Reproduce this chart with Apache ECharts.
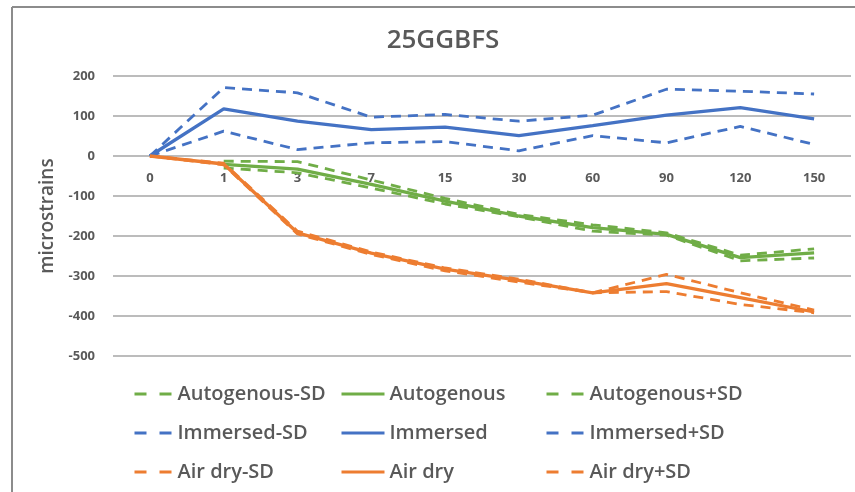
<!DOCTYPE html>
<html>
<head>
<meta charset="utf-8">
<script src="https://cdn.jsdelivr.net/npm/echarts@6/dist/echarts.min.js"></script>
<style>html,body{margin:0;padding:0;background:#fff}#c{width:855px;height:492px}</style>
</head>
<body>
<div id="c"></div>
<script>
const categories = ['0','1','3','7','15','30','60','90','120','150'];
const yTicks = [-500,-400,-300,-200,-100,0,100,200];

const autoMinus = [null,-30,-42,-80,-120,-152,-188,-198,-262,-255];
const autoMean  = [null,-21,-33,-71,-113,-150,-179,-196,-254,-242];
const autoPlus  = [null,-13,-14,-60,-106,-146,-172,-192,-248,-232];

const immMinus = [0,62,16,33,36,13,51,33,74,29];
const immMean  = [0,118,87,66,72,51,76,102,121,93];
const immPlus  = [0,171,158,97,104,87,102,167,162,155];

const airMinus = [0,-22,-195,-246,-287,-315,-342,-339,-371,-392];
const airMean  = [0,-20,-192,-243,-283,-311,-342,-319,-354,-390];
const airPlus  = [0,-18,-188,-240,-280,-308,-342,-296,-342,-385];

const GREEN='#70AD47', BLUE='#4472C4', ORANGE='#ED7D31';

function s(name, data, color, dashed){
  return {
    name, type:'line', data, symbol:'none', connectNulls:false,
    lineStyle:{color, width: dashed?2.8:3.3, type: dashed?[10,7]:'solid'},
    itemStyle:{color, opacity:0},
    z: dashed?2:3
  };
}

const chart = echarts.init(document.getElementById('c'));
const legendText = {fontSize:20, color:'#595959', fontFamily:'Open Sans', fontWeight:600};
function leg(left, names, dashed){
  return {left, top:384, orient:'vertical', itemGap:19, itemWidth: dashed?38:43, itemHeight:12,
    data:names, textStyle:legendText, selectedMode:false, padding:0,
    itemStyle:{opacity:0},
    lineStyle:{width:3, type: dashed?[12,13]:'solid'}};
}
chart.setOption({
  animation:false,
  title:{text:'25GGBFS', left:438, top:23, textAlign:'center',
    textStyle:{fontSize:26, fontWeight:600, color:'#595959', fontFamily:'Open Sans'}},
  graphic:[
    {type:'line', shape:{x1:12,y1:7,x2:855,y2:7}, style:{stroke:'#8c8c8c', lineWidth:2}},
    {type:'line', shape:{x1:12,y1:7,x2:12,y2:492}, style:{stroke:'#8c8c8c', lineWidth:2}}
  ],
  legend:[
    leg(133, ['Autogenous-SD','Immersed-SD','Air dry-SD'], true),
    leg(340, ['Autogenous','Immersed','Air dry'], false),
    leg(545, ['Autogenous+SD','Immersed+SD','Air dry+SD'], true)
  ],
  grid:{left:113, right:4, top:76, height:280},
  xAxis:{type:'category', data:categories, boundaryGap:true, offset:-200,
    axisLine:{show:false, onZero:false}, axisTick:{show:false},
    axisLabel:{color:'#595959', fontSize:13, fontWeight:'bold', fontFamily:'Open Sans', margin:16}},
  yAxis:{type:'value', min:-500, max:200, interval:100,
    name:'microstrains', nameLocation:'middle', nameGap:56, nameRotate:90,
    nameTextStyle:{fontSize:19, color:'#595959', fontFamily:'Open Sans', fontWeight:600},
    axisLine:{show:false}, axisTick:{show:false},
    axisLabel:{color:'#595959', fontSize:13, fontWeight:'bold', fontFamily:'Open Sans', margin:18,
      formatter:v=> yTicks.includes(v)? String(v):''},
    splitLine:{lineStyle:{color:'#a6a6a6', width:1.5}}},
  series:[
    s('Autogenous-SD', autoMinus, GREEN, true),
    s('Autogenous', autoMean, GREEN, false),
    s('Autogenous+SD', autoPlus, GREEN, true),
    s('Immersed-SD', immMinus, BLUE, true),
    s('Immersed', immMean, BLUE, false),
    s('Immersed+SD', immPlus, BLUE, true),
    s('Air dry-SD', airMinus, ORANGE, true),
    s('Air dry', airMean, ORANGE, false),
    s('Air dry+SD', airPlus, ORANGE, true)
  ]
});
</script>
</body>
</html>
